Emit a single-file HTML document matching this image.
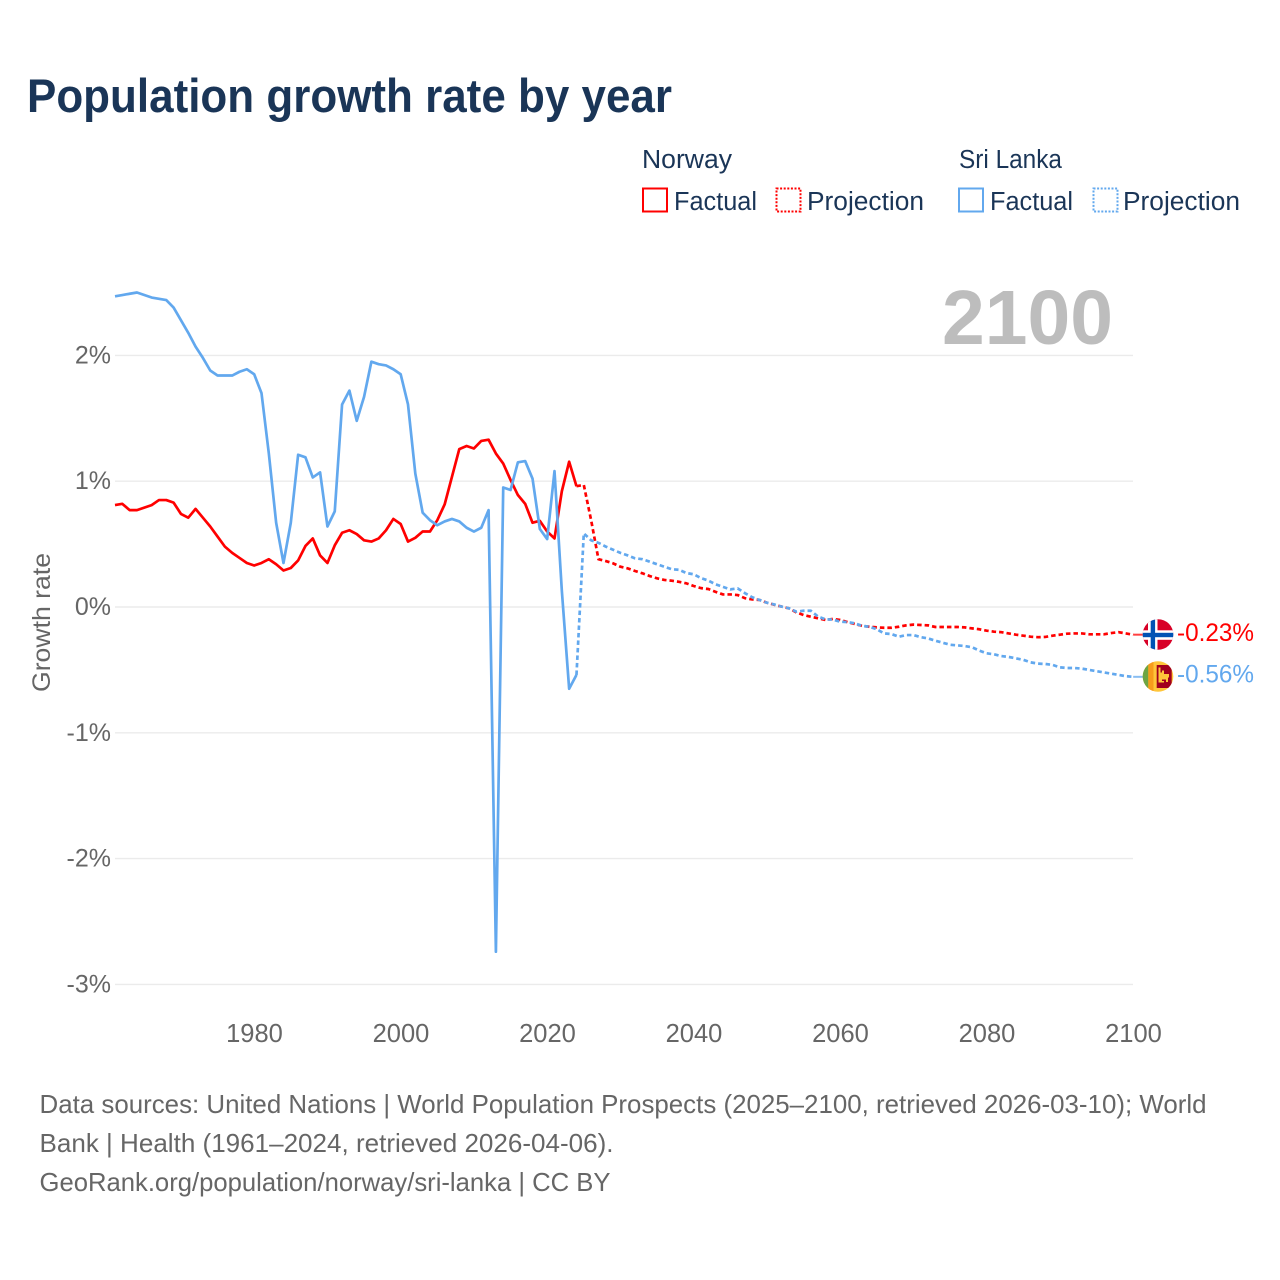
<!DOCTYPE html>
<html lang="en">
<head>
<meta charset="utf-8">
<title>Population growth rate by year</title>
<style>
html,body{margin:0;padding:0;background:#fff;}
svg{display:block;font-family:"Liberation Sans",sans-serif;}
</style>
</head>
<body>
<svg id="chart" xmlns="http://www.w3.org/2000/svg" width="1280" height="1280" viewBox="0 0 1280 1280">
  <defs>
    <clipPath id="clip-no"><circle cx="1158" cy="634.5" r="15.3"/></clipPath>
    <clipPath id="clip-lk"><circle cx="1158" cy="676.5" r="15.3"/></clipPath>
  </defs>
  <rect width="1280" height="1280" fill="#fff"/>
  <text x="27" y="112" font-size="47" font-weight="700" fill="#1a3557" textLength="645" lengthAdjust="spacingAndGlyphs">Population growth rate by year</text>

  <g font-size="25.5" fill="#1a3557">
    <text x="642" y="168" textLength="90" lengthAdjust="spacingAndGlyphs">Norway</text>
    <rect x="643" y="188.5" width="24" height="23" fill="none" stroke="#ff0000" stroke-width="2"/>
    <text x="674" y="210" textLength="83" lengthAdjust="spacingAndGlyphs">Factual</text>
    <rect x="776.5" y="188.5" width="24" height="23" fill="none" stroke="#ff0000" stroke-width="2" stroke-dasharray="2,1.6"/>
    <text x="807" y="210" textLength="117" lengthAdjust="spacingAndGlyphs">Projection</text>
    <text x="959" y="168" textLength="103" lengthAdjust="spacingAndGlyphs">Sri Lanka</text>
    <rect x="959" y="188.5" width="24" height="23" fill="none" stroke="#62a8ee" stroke-width="2"/>
    <text x="990" y="210" textLength="83" lengthAdjust="spacingAndGlyphs">Factual</text>
    <rect x="1093.5" y="188.5" width="24" height="23" fill="none" stroke="#62a8ee" stroke-width="2" stroke-dasharray="2,1.6"/>
    <text x="1123" y="210" textLength="117" lengthAdjust="spacingAndGlyphs">Projection</text>
  </g>

  <g id="grid"></g>
  <text x="942" y="344" font-size="77" font-weight="700" fill="#bdbdbd" textLength="171" lengthAdjust="spacingAndGlyphs">2100</text>
  <g id="y-ticks" font-size="25" fill="#666"></g>
  <g id="x-ticks" font-size="25.5" fill="#666"></g>
  <text transform="translate(50,692) rotate(-90)" font-size="25" fill="#666" textLength="139" lengthAdjust="spacingAndGlyphs">Growth rate</text>
  <g id="series"></g>

  <g id="end-norway">
    <g clip-path="url(#clip-no)">
      <rect x="1142" y="619" width="32" height="32" fill="#d80027"/>
      <rect x="1148" y="619" width="9.5" height="32" fill="#fff"/>
      <rect x="1142" y="630.3" width="32" height="9.5" fill="#fff"/>
      <rect x="1150.7" y="619" width="4.4" height="32" fill="#0052b4"/>
      <rect x="1142" y="632.8" width="32" height="4.4" fill="#0052b4"/>
    </g>
    <text id="label-no" x="1177" y="641" font-size="25" fill="#ff0000" textLength="77" lengthAdjust="spacingAndGlyphs">-0.23%</text>
  </g>
  <g id="end-sri-lanka">
    <g clip-path="url(#clip-lk)">
      <rect x="1142" y="661" width="32" height="32" fill="#ffc63a"/>
      <rect x="1142" y="661" width="6.3" height="32" fill="#6da544"/>
      <rect x="1148.3" y="661" width="5.2" height="32" fill="#f79c1c"/>
      <rect x="1156.7" y="665" width="15" height="23" fill="#a2001d"/>
      <path d="M1158.5 667.5h2v5h1.5v-2h2v3.5h5v3.5h-1v4.5h-2v-2.5h-4v1.5h2v1.5h-5.5z" fill="#ffc63a"/>
    </g>
    <text id="label-lk" x="1177" y="682.5" font-size="25" fill="#62a8ee" textLength="77" lengthAdjust="spacingAndGlyphs">-0.56%</text>
  </g>

  <g font-size="26" fill="#666">
    <text x="39.5" y="1113" textLength="1167" lengthAdjust="spacingAndGlyphs">Data sources: United Nations | World Population Prospects (2025–2100, retrieved 2026-03-10); World</text>
    <text x="39.5" y="1152" textLength="574" lengthAdjust="spacingAndGlyphs">Bank | Health (1961–2024, retrieved 2026-04-06).</text>
    <text x="39.5" y="1191" textLength="571" lengthAdjust="spacingAndGlyphs">GeoRank.org/population/norway/sri-lanka | CC BY</text>
  </g>
</svg>
<script>
const factualStartYear = 1961;
const projectionStartYear = 2024;
const xTickYears = [1980, 2000, 2020, 2040, 2060, 2080, 2100];
const yTickValues = [2, 1, 0, -1, -2, -3];
const yTickLabels = ['2%', '1%', '0%', '-1%', '-2%', '-3%'];

const norwayFactual = [
0.81,0.82,0.77,0.77,0.79,0.81,0.85,0.85,0.83,0.74,
0.71,0.78,0.71,0.64,0.56,0.48,0.43,0.39,0.35,0.33,
0.35,0.38,0.34,0.29,0.31,0.37,0.485,0.545,0.41,0.35,
0.49,0.59,0.61,0.58,0.53,0.52,0.545,0.61,0.70,0.66,
0.52,0.55,0.60,0.60,0.69,0.815,1.035,1.255,1.28,1.26,
1.32,1.33,1.22,1.14,1.01,0.89,0.82,0.67,0.685,0.60,
0.545,0.92,1.155,0.96];

const sriLankaFactual = [
2.47,2.48,2.49,2.50,2.48,2.46,2.45,2.44,2.38,2.28,
2.18,2.07,1.98,1.88,1.84,1.84,1.84,1.87,1.89,1.85,
1.70,1.22,0.67,0.35,0.67,1.21,1.19,1.03,1.07,0.64,
0.76,1.61,1.72,1.48,1.67,1.95,1.93,1.92,1.89,1.85,
1.61,1.06,0.75,0.69,0.65,0.68,0.70,0.68,0.63,0.60,
0.63,0.77,-2.74,0.95,0.93,1.15,1.16,1.02,0.62,0.54,
1.08,0.13,-0.65,-0.54];

const norwayProjection = [
0.96,0.97,0.69,0.38,0.365,0.347,0.32,0.307,0.286,0.268,
0.246,0.228,0.215,0.209,0.20,0.188,0.167,0.15,0.143,0.12,
0.10,0.10,0.095,0.07,0.06,0.056,0.034,0.018,0.003,-0.01,
-0.042,-0.064,-0.077,-0.09,-0.103,-0.095,-0.103,-0.12,-0.135,-0.15,
-0.157,-0.162,-0.165,-0.165,-0.157,-0.146,-0.14,-0.143,-0.146,-0.159,
-0.159,-0.159,-0.159,-0.162,-0.17,-0.177,-0.188,-0.196,-0.20,-0.21,
-0.22,-0.228,-0.236,-0.24,-0.238,-0.228,-0.22,-0.212,-0.21,-0.21,
-0.217,-0.217,-0.217,-0.207,-0.20,-0.21,-0.22];

const sriLankaProjection = [
-0.54,0.585,0.53,0.51,0.48,0.455,0.43,0.41,0.387,0.38,
0.36,0.34,0.32,0.30,0.296,0.27,0.26,0.23,0.21,0.18,
0.16,0.14,0.148,0.11,0.077,0.056,0.034,0.02,0.003,-0.01,
-0.037,-0.03,-0.03,-0.077,-0.098,-0.10,-0.117,-0.12,-0.13,-0.15,
-0.157,-0.177,-0.21,-0.215,-0.236,-0.223,-0.223,-0.24,-0.25,-0.268,
-0.284,-0.30,-0.305,-0.31,-0.32,-0.347,-0.368,-0.376,-0.39,-0.397,
-0.408,-0.42,-0.44,-0.45,-0.453,-0.46,-0.48,-0.485,-0.485,-0.49,
-0.50,-0.51,-0.52,-0.53,-0.54,-0.55,-0.555];

const norwayColor = '#ff0000';
const sriLankaColor = '#62a8ee';
const NS = 'http://www.w3.org/2000/svg';

function xScale(year) { return 115 + (year - 1961) * 7.325; }
function yScale(value) { return 607 - value * 125.8; }

function linePoints(values, startYear) {
  return values.map(function (v, i) {
    return xScale(startYear + i).toFixed(2) + ',' + yScale(v).toFixed(2);
  }).join(' ');
}

const gridGroup = document.getElementById('grid');
const yTickGroup = document.getElementById('y-ticks');
const xTickGroup = document.getElementById('x-ticks');
const seriesGroup = document.getElementById('series');

yTickValues.forEach(function (v, i) {
  const gridLine = document.createElementNS(NS, 'line');
  
  
  gridLine.setAttribute('x1', 115);
  gridLine.setAttribute('x2', 1133);
  gridLine.setAttribute('y1', yScale(v));
  gridLine.setAttribute('y2', yScale(v));
  gridLine.setAttribute('stroke', '#ebebeb');
  gridLine.setAttribute('stroke-width', 1.4);
  gridGroup.appendChild(gridLine);

  const tick = document.createElementNS(NS, 'text');
  
  
  tick.setAttribute('x', 111);
  tick.setAttribute('y', yScale(v) + 8);
  tick.setAttribute('text-anchor', 'end');
  tick.textContent = yTickLabels[i];
  yTickGroup.appendChild(tick);
});

xTickYears.forEach(function (year) {
  const tick = document.createElementNS(NS, 'text');
  
  
  tick.setAttribute('x', xScale(year) + 0.3);
  tick.setAttribute('y', 1042);
  tick.setAttribute('text-anchor', 'middle');
  tick.textContent = String(year);
  xTickGroup.appendChild(tick);
});

function addProjection(values, color) {
  const line = document.createElementNS(NS, 'polyline');
  
  
  line.setAttribute('points', linePoints(values, projectionStartYear));
  line.setAttribute('fill', 'none');
  line.setAttribute('stroke', color);
  line.setAttribute('stroke-width', 2.7);
  line.setAttribute('stroke-dasharray', '4.5,3');
  line.setAttribute('stroke-linejoin', 'round');
  seriesGroup.appendChild(line);
}

function addFactual(values, color) {
  const line = document.createElementNS(NS, 'polyline');
  
  
  line.setAttribute('points', linePoints(values, factualStartYear));
  line.setAttribute('fill', 'none');
  line.setAttribute('stroke', color);
  line.setAttribute('stroke-width', 2.7);
  line.setAttribute('stroke-linejoin', 'round');
  seriesGroup.appendChild(line);
}

function addConnector(values, color) {
  const last = values[values.length - 1];
  const line = document.createElementNS(NS, 'line');
  
  
  line.setAttribute('x1', xScale(2100));
  line.setAttribute('x2', xScale(2100) + 11);
  line.setAttribute('y1', yScale(last));
  line.setAttribute('y2', yScale(last));
  line.setAttribute('stroke', color);
  line.setAttribute('stroke-width', 2);
  line.setAttribute('opacity', 0.75);
  seriesGroup.appendChild(line);
}

addProjection(norwayProjection, norwayColor);
addFactual(norwayFactual, norwayColor);
addConnector(norwayProjection, norwayColor);
addProjection(sriLankaProjection, sriLankaColor);
addFactual(sriLankaFactual, sriLankaColor);
addConnector(sriLankaProjection, sriLankaColor);

document.getElementById('end-norway').setAttribute('transform',
  'translate(0,' + (yScale(norwayProjection[norwayProjection.length - 1]) - yScale(-0.22)).toFixed(2) + ')');
document.getElementById('end-sri-lanka').setAttribute('transform',
  'translate(0,' + (yScale(sriLankaProjection[sriLankaProjection.length - 1]) - yScale(-0.555)).toFixed(2) + ')');
</script>
</body>
</html>
